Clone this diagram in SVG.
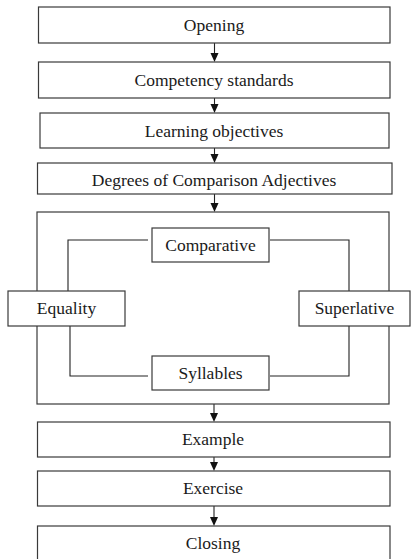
<svg xmlns="http://www.w3.org/2000/svg" width="411" height="559" viewBox="0 0 411 559">
<defs>
<style>
.box{fill:#fff;stroke:#3a3a3a;stroke-width:1.2}
.frame{fill:none;stroke:#3a3a3a;stroke-width:1.2}
.ln{fill:none;stroke:#222;stroke-width:1.1}
.ah{fill:#111}
text{font-family:'Liberation Serif','Times New Roman',Times,serif;font-size:17.5px;fill:#1a1a1a;text-anchor:middle}
</style>
</defs>
<rect width="411" height="559" fill="#fff"/>
<g id="connectors">
<line class="ln" x1="214.5" y1="43" x2="214.5" y2="55"/>
<line class="ln" x1="214.5" y1="98" x2="214.5" y2="106"/>
<line class="ln" x1="214.5" y1="148" x2="214.5" y2="156"/>
<line class="ln" x1="214.5" y1="194" x2="214.5" y2="205"/>
<line class="ln" x1="214" y1="404" x2="214" y2="415"/>
<line class="ln" x1="214" y1="457" x2="214" y2="464"/>
<line class="ln" x1="214" y1="506" x2="214" y2="519"/>
<path class="ah" d="M210.5,53 L218.5,53 L214.5,62 Z"/>
<path class="ah" d="M210.5,104 L218.5,104 L214.5,113 Z"/>
<path class="ah" d="M210.5,154 L218.5,154 L214.5,163 Z"/>
<path class="ah" d="M210.5,203 L218.5,203 L214.5,212 Z"/>
<path class="ah" d="M210,413 L218,413 L214,422 Z"/>
<path class="ah" d="M210,462 L218,462 L214,471 Z"/>
<path class="ah" d="M210,517 L218,517 L214,526 Z"/>
<polyline class="ln" points="148,240 68,240 68,291"/>
<polyline class="ln" points="270,240 349,240 349,291"/>
<polyline class="ln" points="70,326 70,376 148,376"/>
<polyline class="ln" points="349,326 349,376 270,376"/>
</g>
<g id="opening"><rect class="box" x="38.5" y="7" width="351.5" height="36"/><text x="214" y="31" font-family="Liberation Serif, serif">Opening</text></g>
<g id="competency"><rect class="box" x="38.5" y="62" width="351.5" height="36"/><text x="214" y="86" font-family="Liberation Serif, serif">Competency standards</text></g>
<g id="objectives"><rect class="box" x="40" y="113" width="349" height="35"/><text x="214" y="137" font-family="Liberation Serif, serif">Learning objectives</text></g>
<g id="degrees"><rect class="box" x="37.5" y="163" width="354.5" height="31"/><text x="214" y="186" font-family="Liberation Serif, serif">Degrees of Comparison Adjectives</text></g>
<g id="group"><rect class="frame" x="37" y="212" width="352" height="192"/></g>
<g id="comparative"><rect class="box" x="152" y="228" width="117" height="34"/><text x="210.5" y="251" font-family="Liberation Serif, serif">Comparative</text></g>
<g id="equality"><rect class="box" x="8" y="291" width="117" height="35"/><text x="66.5" y="314" font-family="Liberation Serif, serif">Equality</text></g>
<g id="superlative"><rect class="box" x="299" y="291" width="111" height="35"/><text x="354.5" y="314" font-family="Liberation Serif, serif">Superlative</text></g>
<g id="syllables"><rect class="box" x="152" y="356" width="117" height="34"/><text x="210.5" y="379" font-family="Liberation Serif, serif">Syllables</text></g>
<g id="example"><rect class="box" x="37.5" y="422" width="352.5" height="35"/><text x="213" y="445" font-family="Liberation Serif, serif">Example</text></g>
<g id="exercise"><rect class="box" x="37.5" y="471" width="352.5" height="35"/><text x="213" y="494" font-family="Liberation Serif, serif">Exercise</text></g>
<g id="closing"><rect class="box" x="37.5" y="526" width="352.5" height="40"/><text x="213" y="549" font-family="Liberation Serif, serif">Closing</text></g>
</svg>
